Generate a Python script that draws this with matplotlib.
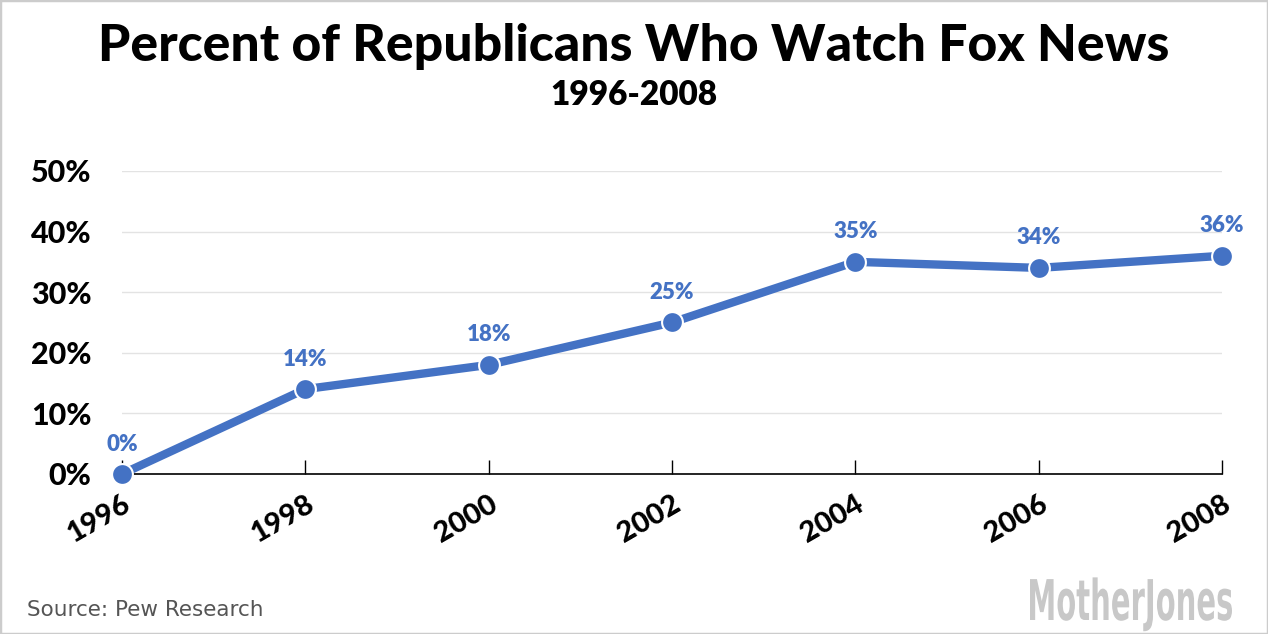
import matplotlib.pyplot as plt
from matplotlib.patches import Rectangle, PathPatch
from matplotlib.textpath import TextPath
from matplotlib.font_manager import FontProperties
from matplotlib.transforms import Affine2D

# Data
years = [1996, 1998, 2000, 2002, 2004, 2006, 2008]
pct = [0, 14, 18, 25, 35, 34, 36]
yticks = [0, 10, 20, 30, 40, 50]

blue = "#4472C4"

plt.rcParams['font.family'] = ['Lato', 'DejaVu Sans']

fig = plt.figure(figsize=(12.68, 6.34), dpi=100)
ax = fig.add_axes([0.0962, 0.2524, 0.8675, 0.478])

ax.plot(years, pct, color=blue, lw=6, solid_capstyle='butt', zorder=3,
        marker='o', ms=15, mfc=blue, mec='white', mew=1.5, clip_on=False)

for x, y in zip(years, pct):
    ax.annotate(f"{y}%", (x, y), xytext=(0, 14), textcoords='offset points',
                ha='center', va='bottom', color=blue, fontsize=16, fontweight='heavy')

ax.set_xlim(1996, 2008)
ax.set_ylim(0, 50)
ax.set_yticks(yticks)
ax.set_yticklabels([f"{t}%" for t in yticks])
ax.set_xticks(years)
ax.set_xticklabels([str(y) for y in years], rotation=30, ha='right', rotation_mode='anchor')

ax.grid(axis='y', color='#e3e3e3', lw=1)
ax.set_axisbelow(True)
for s in ['top', 'right', 'left']:
    ax.spines[s].set_visible(False)
ax.spines['bottom'].set_color('black')
ax.spines['bottom'].set_linewidth(1.2)
ax.tick_params(axis='y', length=0, pad=22, labelsize=22)
ax.tick_params(axis='x', direction='in', length=10, width=1, pad=12, labelsize=21)
for lab in ax.get_xticklabels() + ax.get_yticklabels():
    lab.set_fontweight('black')

fig.text(0.5, 0.927, "Percent of Republicans Who Watch Fox News", ha='center', va='center',
         fontsize=37.3, fontweight='black')
fig.text(0.5, 0.85, "1996-2008", ha='center', va='center', fontsize=24, fontweight='heavy')

fig.text(0.021, 0.038, "Source: Pew Research", ha='left', va='center', fontsize=15.5,
         color='#555555', family=['DejaVu Sans'])

# condensed logo: squeeze a bold text path horizontally
tp = TextPath((0, 0), "MotherJones", size=58,
              prop=FontProperties(family='DejaVu Sans', weight='bold'))
bb = tp.get_extents()
sx = 202 / bb.width
sy = 42 / (bb.height * 0.78)
tr = Affine2D().translate(-bb.x0, 0).scale(sx, sy).translate(1030, 634 - 620)
fig.patches.append(PathPatch(tp, transform=tr, fc='#c8c8c8', ec='none'))

fig.patches.append(Rectangle((0, 0), 1, 1, transform=fig.transFigure, fill=False,
                             ec='#cccccc', lw=2.5))

fig.savefig("out.png", dpi=100)
